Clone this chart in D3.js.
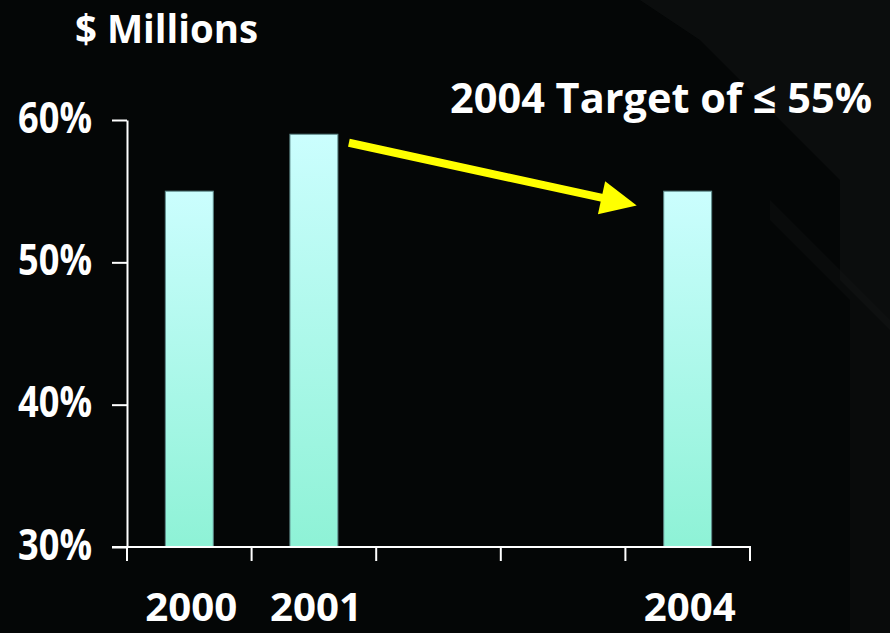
<!DOCTYPE html>
<html lang="en">
  <head>
    <meta charset="UTF-8" />
    <title>$ Millions</title>
    <script src="https://d3js.org/d3.v7.min.js"></script>
    <style>
      body {
        margin: 0;
        background: #040606;
      }
      svg {
        display: block;
      }
      text {
        fill: #ffffff;
        font-weight: bold;
        font-family: 'Open Sans', 'DejaVu Sans', sans-serif;
      }
    </style>
  </head>
  <body>
    <svg width="890" height="633"></svg>
    <script>
      const years = ['2000', '2001', '2002', '2003', '2004'];
      const yearLabels = ['2000', '2001', '', '', '2004'];
      const values = [55, 59, null, null, 55];
      const yTicks = [30, 40, 50, 60];

      const svg = d3.select('svg');

      // dark slide background with a faint diagonal panel on the right
      svg
        .append('rect')
        .attr('width', 890)
        .attr('height', 633)
        .attr('fill', '#040606');
      svg
        .append('path')
        .attr('d', 'M640,0 L890,0 L890,330 L840,280 L840,180 L700,40 Z')
        .attr('fill', '#1b1e1e')
        .attr('opacity', 0.35);
      svg
        .append('path')
        .attr('d', 'M770,200 L890,320 L890,633 L850,633 L850,300 L770,220 Z')
        .attr('fill', '#151818')
        .attr('opacity', 0.35);

      const defs = svg.append('defs');
      const grad = defs
        .append('linearGradient')
        .attr('id', 'barGrad')
        .attr('x1', 0)
        .attr('y1', 0)
        .attr('x2', 0)
        .attr('y2', 1);
      grad.append('stop').attr('offset', '0%').attr('stop-color', '#cbfefe');
      grad.append('stop').attr('offset', '100%').attr('stop-color', '#8ef2d6');

      const x = d3
        .scaleBand()
        .domain(years)
        .range([127, 750])
        .paddingInner(0.615)
        .paddingOuter(0.3075);

      const y = d3.scaleLinear().domain([30, 60]).range([547, 120]);

      // bars
      svg
        .selectAll('rect.bar')
        .data(years.map((yr, i) => ({ yr, v: values[i] })).filter((d) => d.v != null))
        .join('rect')
        .attr('class', 'bar')
        .attr('x', (d) => x(d.yr))
        .attr('y', (d) => y(d.v))
        .attr('width', x.bandwidth())
        .attr('height', (d) => y(30) - y(d.v))
        .attr('fill', 'url(#barGrad)')
        .attr('stroke', '#5e8a8a')
        .attr('stroke-width', 1);

      // y axis
      const yAxis = svg
        .append('g')
        .attr('transform', 'translate(127,0)')
        .call(
          d3
            .axisLeft(y)
            .tickValues(yTicks)
            .tickSize(15)
            .tickSizeOuter(0)
            .tickFormat((d) => d + '%'),
        );
      yAxis.select('.domain').attr('stroke', '#ffffff').attr('stroke-width', 2);
      yAxis.selectAll('.tick line').attr('stroke', '#ffffff').attr('stroke-width', 2);
      yAxis
        .selectAll('.tick text')
        .attr('fill', '#ffffff')
        .attr('text-anchor', 'start')
        .attr('x', 18 - 127)
        .attr('dy', 12)
        .attr('textLength', 74)
        .attr('lengthAdjust', 'spacingAndGlyphs')
        .style('font-size', '43px')
        .style('font-family', "'Open Sans', 'DejaVu Sans', sans-serif");

      // x axis: ticks at band boundaries
      const xAxisG = svg.append('g');
      xAxisG
        .append('line')
        .attr('x1', 112)
        .attr('x2', 751)
        .attr('y1', y(30))
        .attr('y2', y(30))
        .attr('stroke', '#ffffff')
        .attr('stroke-width', 2);
      const bounds = years.map((yr) => x(yr) - (x.step() - x.bandwidth()) / 2);
      bounds.push(750);
      xAxisG
        .selectAll('line.xt')
        .data(bounds)
        .join('line')
        .attr('class', 'xt')
        .attr('x1', (d) => d)
        .attr('x2', (d) => d)
        .attr('y1', y(30))
        .attr('y2', y(30) + 14)
        .attr('stroke', '#ffffff')
        .attr('stroke-width', 2);
      xAxisG
        .selectAll('text.xl')
        .data(
          years
            .map((yr, i) => ({ yr, label: yearLabels[i] }))
            .filter((d) => d.label),
        )
        .join('text')
        .attr('class', 'xl')
        .attr('x', (d) => x(d.yr) + x.bandwidth() / 2 + 2 - 46)
        .attr('y', 621)
        .attr('textLength', 92)
        .attr('lengthAdjust', 'spacingAndGlyphs')
        .style('font-size', '39px')
        .text((d) => d.label);

      // title
      svg
        .append('text')
        .attr('x', 75)
        .attr('y', 43)
        .attr('textLength', 183)
        .attr('lengthAdjust', 'spacingAndGlyphs')
        .style('font-size', '39px')
        .text('$ Millions');

      // target annotation
      svg
        .append('text')
        .attr('x', 450)
        .attr('y', 113)
        .attr('textLength', 422)
        .attr('lengthAdjust', 'spacingAndGlyphs')
        .style('font-size', '42px')
        .text('2004 Target of \u2264 55%');

      // yellow arrow from 2001 toward 2004
      const x0 = x('2001') + x.bandwidth() + 11;
      const y0 = y(58.4);
      const x1 = x('2004') - 27;
      const y1 = y(54);
      const ang = Math.atan2(y1 - y0, x1 - x0);
      const headLen = 36;
      const headW = 17;
      const bx = x1 - headLen * Math.cos(ang);
      const by = y1 - headLen * Math.sin(ang);
      svg
        .append('line')
        .attr('x1', x0)
        .attr('y1', y0)
        .attr('x2', bx + 2 * Math.cos(ang))
        .attr('y2', by + 2 * Math.sin(ang))
        .attr('stroke', '#ffff00')
        .attr('stroke-width', 8);
      svg
        .append('polygon')
        .attr(
          'points',
          [
            [x1, y1],
            [bx - headW * Math.sin(ang), by + headW * Math.cos(ang)],
            [bx + headW * Math.sin(ang), by - headW * Math.cos(ang)],
          ]
            .map((p) => p.join(','))
            .join(' '),
        )
        .attr('fill', '#ffff00');
    </script>
  </body>
</html>
